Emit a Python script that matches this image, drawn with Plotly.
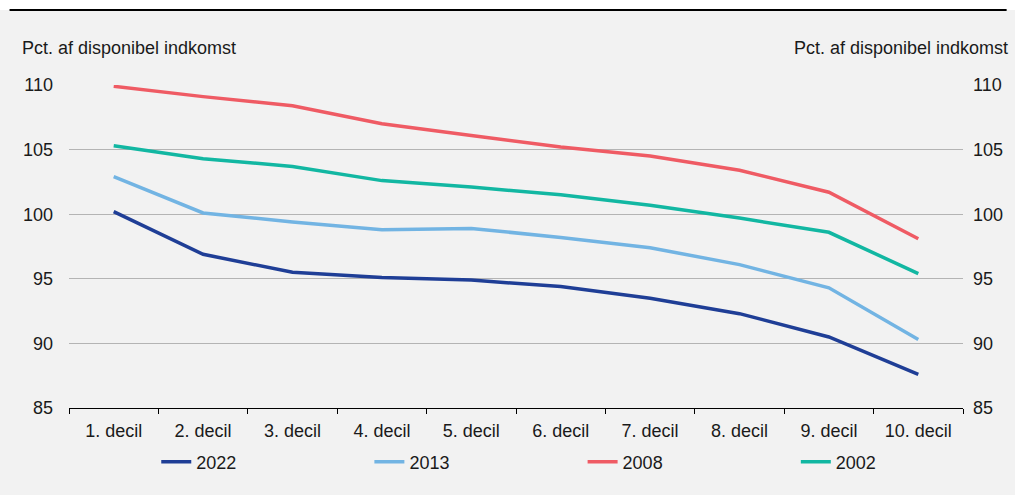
import plotly.graph_objects as go

categories = ["1. decil", "2. decil", "3. decil", "4. decil", "5. decil",
              "6. decil", "7. decil", "8. decil", "9. decil", "10. decil"]
v2022 = [100.2, 96.9, 95.5, 95.1, 94.9, 94.4, 93.5, 92.3, 90.5, 87.6]
v2013 = [102.9, 100.1, 99.4, 98.8, 98.9, 98.2, 97.4, 96.1, 94.3, 90.3]
v2008 = [109.9, 109.1, 108.4, 107.0, 106.1, 105.2, 104.5, 103.4, 101.7, 98.1]
v2002 = [105.3, 104.3, 103.7, 102.6, 102.1, 101.5, 100.7, 99.7, 98.6, 95.4]
y_ticks = [85, 90, 95, 100, 105, 110]
axis_title = "Pct. af disponibel indkomst"

series = [("2022", v2022, "#1f3e96"), ("2013", v2013, "#72b4e3"),
          ("2008", v2008, "#ef5b64"), ("2002", v2002, "#12b7a2")]
legend_ids = ["legend", "legend2", "legend3", "legend4"]

FONT = "Liberation Sans, Arial, sans-serif"
FS = 18
fig = go.Figure()
for (name, vals, col), lid in zip(series, legend_ids):
    fig.add_trace(go.Scatter(x=categories, y=vals, name=name, mode="lines",
                             legend=lid, line=dict(color=col, width=3.5)))
# invisible trace for right axis
fig.add_trace(go.Scatter(x=categories, y=v2022, yaxis="y2", showlegend=False,
                         mode="lines", line=dict(width=0), hoverinfo="skip", opacity=0))

legend_x = [0.0976, 0.336, 0.5745, 0.813]
legends = {}
for lid, lx in zip(legend_ids, legend_x):
    legends[lid] = dict(orientation="h", x=lx, xanchor="left", y=-0.167, yanchor="middle",
                        bgcolor="rgba(0,0,0,0)", font=dict(size=FS), borderwidth=0)

fig.update_layout(
    width=1015, height=495,
    margin=dict(l=69, r=44, t=85, b=87),
    paper_bgcolor="#f2f2f2", plot_bgcolor="#f2f2f2",
    font=dict(family=FONT, size=FS, color="#1a1a1a"),
    showlegend=True,
    xaxis=dict(type="category", range=[-0.5, 9.5], showgrid=False, showline=True,
               linecolor="black", linewidth=1, ticks="outside", tickson="boundaries",
               ticklen=5, tickcolor="black", tickfont=dict(size=FS), zeroline=False,
               ticklabelstandoff=6),
    yaxis=dict(range=[85, 110], tickvals=y_ticks, showgrid=True, gridcolor="#b4b4b4",
               gridwidth=1, zeroline=False, showline=False, ticks="",
               ticklabelstandoff=15, tickfont=dict(size=FS)),
    yaxis2=dict(range=[85, 110], tickvals=y_ticks, overlaying="y", side="right",
                showgrid=False, zeroline=False, showline=False, ticks="",
                ticklabelstandoff=9, tickfont=dict(size=FS)),
    annotations=[
        dict(text=axis_title, xref="paper", yref="paper", x=-0.0545, y=1.115,
             xanchor="left", yanchor="middle", showarrow=False, font=dict(size=FS)),
        dict(text=axis_title, xref="paper", yref="paper", x=1.0525, y=1.115,
             xanchor="right", yanchor="middle", showarrow=False, font=dict(size=FS)),
    ],
    shapes=[
        dict(type="rect", xref="paper", yref="paper", x0=-0.08, x1=1.06,
             y0=1.232, y1=1.27, fillcolor="white", line=dict(width=0), layer="below"),
        dict(type="line", xref="paper", yref="paper", x0=-0.0665, x1=1.0488,
             y0=1.232, y1=1.232, line=dict(color="black", width=2)),
    ],
    **legends,
)
fig.write_html("out.html", config={"displayModeBar": False},
               post_script="document.body.style.margin='0px';")
